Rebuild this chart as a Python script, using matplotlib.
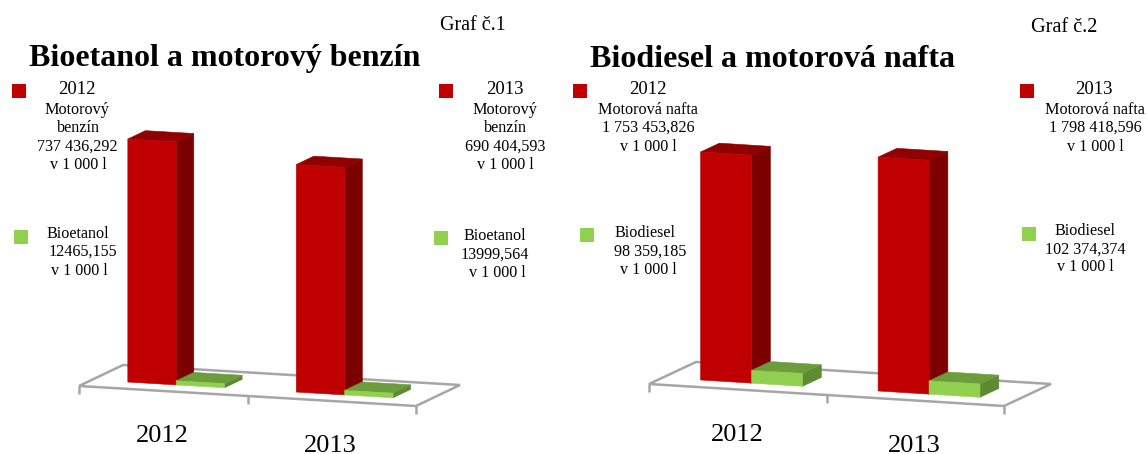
import matplotlib
matplotlib.use("Agg")
import matplotlib.pyplot as plt
from matplotlib.patches import Polygon, Rectangle

plt.rcParams['font.family'] = ['Liberation Serif', 'DejaVu Serif']

years = ["2012", "2013"]
benzin = [737436.292, 690404.593]
bioetanol = [12465.155, 13999.564]
nafta = [1753453.826, 1798418.596]
biodiesel = [98359.185, 102374.374]

titles = ["Bioetanol a motorový benzín", "Biodiesel a motorová nafta"]
graf_labels = ["Graf č.1", "Graf č.2"]
labels_benzin = ["737 436,292", "690 404,593"]
labels_bioetanol = ["12465,155", "13999,564"]
labels_nafta = ["1 753 453,826", "1 798 418,596"]
labels_biodiesel = ["98 359,185", "102 374,374"]
unit = "v 1 000 l"

RED, RED_TOP, RED_SIDE = "#C00000", "#900000", "#7C0000"
GRN, GRN_TOP, GRN_SIDE = "#92D050", "#6C9C3C", "#5F8A34"
GREY = "#A6A6A6"
BAR_U0, BAR_W, W0, W1 = 0.214, 0.287, 0.29, 0.69

fig = plt.figure(figsize=(11.47, 4.54), dpi=100)
ax = fig.add_axes([0, 0, 1, 1])
ax.set_xlim(0, 1147)
ax.set_ylim(454, 0)
ax.axis("off")


def chart(origin, uvec, wvec, k, big, small, label_pos, tick_len):
    def P(u, w, v):
        return (origin[0] + u / 2 * uvec[0] + w * wvec[0],
                origin[1] + u / 2 * uvec[1] + w * wvec[1] - v * k)

    floor = [P(0, 0, 0), P(2, 0, 0), P(2, 1, 0), P(0, 1, 0)]
    ax.add_patch(Polygon(floor, closed=True, fill=False, edgecolor=GREY, lw=1.8, zorder=1))
    for u in (0, 1, 2):
        x, y = P(u, 0, 0)
        ax.plot([x, x], [y, y + tick_len], color=GREY, lw=1.8, zorder=1, solid_capstyle="butt")

    def box(u0, val, cols, z):
        u1 = u0 + BAR_W
        front, top, side = cols
        ax.add_patch(Polygon([P(u1, W0, 0), P(u1, W1, 0), P(u1, W1, val), P(u1, W0, val)],
                             fc=side, ec=side, lw=0.4, zorder=z))
        ax.add_patch(Polygon([P(u0, W0, val), P(u1, W0, val), P(u1, W1, val), P(u0, W1, val)],
                             fc=top, ec=top, lw=0.4, zorder=z))
        ax.add_patch(Polygon([P(u0, W0, 0), P(u1, W0, 0), P(u1, W0, val), P(u0, W0, val)],
                             fc=front, ec=front, lw=0.4, zorder=z))

    for i in range(2):
        box(i + BAR_U0, big[i], (RED, RED_TOP, RED_SIDE), 2 + i * 2)
        box(i + BAR_U0 + BAR_W, small[i], (GRN, GRN_TOP, GRN_SIDE), 3 + i * 2)
        ax.text(label_pos[i][0], label_pos[i][1], years[i], fontsize=19, ha="center",
                va="center_baseline", color="black")


chart((79, 386), (337, 20), (44, -21), 243 / benzin[0], benzin, bioetanol, [(162.5, 433), (330, 443.5)], 8)
chart((649, 384), (355, 22), (47, -22), 228 / nafta[0], nafta, biodiesel, [(737, 432.5), (914.5, 443.5)], 8)


def T(x, y, s, size=11.6, **kw):
    ax.text(x, y, s, fontsize=size, ha="center", va="center_baseline", color="black", **kw)


def square(x, y, c):
    ax.add_patch(Rectangle((x, y), 14, 14, fc=c, ec="none", zorder=5))


T(473, 23, graf_labels[0], size=14.4)
T(1064, 25, graf_labels[1], size=14.6)
T(224.5, 55, titles[0], size=23, fontweight="bold")
T(772.5, 56, titles[1], size=23, fontweight="bold")

for x, y, c in [(12, 84, RED), (14, 230, GRN), (439, 84, RED), (434, 231, GRN),
                (573, 84, RED), (580, 228, GRN), (1020, 84, RED), (1022, 227, GRN)]:
    square(x, y, c)

# Graf 1 annotations
T(77, 88, years[0], size=13.4)
T(77, 108, "Motorový"); T(78, 126, "benzín"); T(77, 145, labels_benzin[0]); T(78, 163, unit)
T(78, 232, "Bioetanol"); T(83, 250, labels_bioetanol[0]); T(79, 269, unit)
T(505, 88, years[1], size=13.4)
T(505, 108, "Motorový"); T(505, 126, "benzín"); T(505, 145, labels_benzin[1]); T(505, 163, unit)
T(495, 234, "Bioetanol"); T(495, 253, labels_bioetanol[1]); T(497, 271, unit)
# Graf 2 annotations
T(648, 88, years[0], size=13.4)
T(648, 108, "Motorová nafta"); T(648, 126, labels_nafta[0]); T(648, 145, unit)
T(645, 231, "Biodiesel"); T(650, 250, labels_biodiesel[0]); T(648, 268, unit)
T(1094, 88, years[1], size=13.4)
T(1095, 108, "Motorová nafta"); T(1095, 126, labels_nafta[1]); T(1095, 145, unit)
T(1085, 229, "Biodiesel"); T(1085, 248, labels_biodiesel[1]); T(1085, 265, unit)

fig.savefig("out.png", dpi=100, facecolor="white")
